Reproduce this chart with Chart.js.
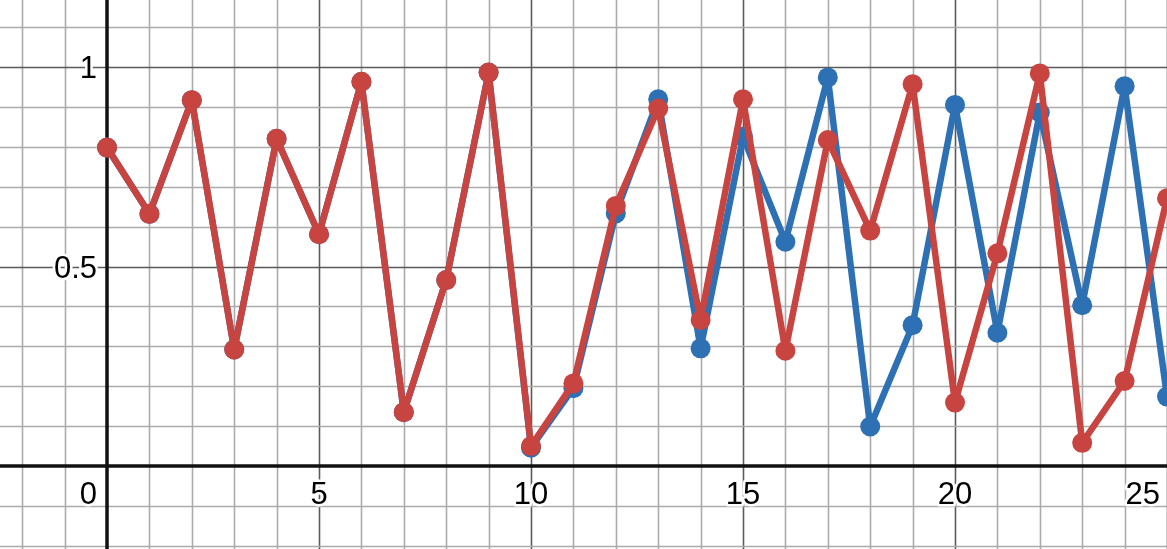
<!DOCTYPE html>
<html>
<head>
<meta charset="utf-8">
<script src="https://cdn.jsdelivr.net/npm/chart.js@4"></script>
<style>
  html, body { margin: 0; padding: 0; background: #fff; }
  #wrap { width: 1167px; height: 549px; position: relative; }
</style>
</head>
<body>
<div id="wrap"><canvas id="c" width="1167" height="549"></canvas></div>
<script>
// ---- data ----
const xValues = [0,1,2,3,4,5,6,7,8,9,10,11,12,13,14,15,16,17,18,19,20,21,22,23,24,25];
const blueValues = [0.798,0.632,0.917,0.292,0.820,0.581,0.963,0.135,0.466,0.986,0.046,0.195,0.633,0.919,0.295,0.825,0.562,0.974,0.099,0.353,0.905,0.334,0.886,0.403,0.952,0.174];
const redValues  = [0.798,0.632,0.917,0.292,0.820,0.581,0.963,0.135,0.466,0.986,0.050,0.207,0.652,0.896,0.366,0.919,0.289,0.817,0.590,0.957,0.159,0.533,0.984,0.058,0.213,0.671];
const xTickLabels = [5,10,15,20,25];
const yTickLabels = [0.5,1];
const originLabel = "0";

const xRange = [-2.524, 25.0];
const yRange = [-0.208, 1.168];

const toPts = (ys) => xValues.map((x, i) => ({x: x, y: ys[i]}));

const gridPlugin = {
  id: 'desmosGrid',
  beforeDatasetsDraw(chart) {
    const ctx = chart.ctx;
    const xs = chart.scales.x, ys = chart.scales.y;
    const area = chart.chartArea;
    ctx.save();
    for (let v = Math.ceil(xRange[0]); v <= Math.floor(xRange[1]); v++) {
      if (v === 0) continue;
      const px = Math.round(xs.getPixelForValue(v)) + 0.5;
      const major = (v % 5 === 0);
      ctx.strokeStyle = major ? '#5a5a5a' : '#ababab';
      ctx.lineWidth = 1.6;
      ctx.beginPath(); ctx.moveTo(px, area.top); ctx.lineTo(px, area.bottom); ctx.stroke();
    }
    for (let k = Math.ceil(yRange[0] * 10); k <= Math.floor(yRange[1] * 10); k++) {
      if (k === 0) continue;
      const py = Math.round(ys.getPixelForValue(k / 10)) + 0.5;
      const major = (k % 5 === 0);
      ctx.strokeStyle = major ? '#5a5a5a' : '#ababab';
      ctx.lineWidth = 1.6;
      ctx.beginPath(); ctx.moveTo(area.left, py); ctx.lineTo(area.right, py); ctx.stroke();
    }
    ctx.strokeStyle = '#111';
    ctx.lineWidth = 3.5;
    const ax = xs.getPixelForValue(0), ay = ys.getPixelForValue(0);
    ctx.beginPath(); ctx.moveTo(ax, area.top); ctx.lineTo(ax, area.bottom); ctx.stroke();
    ctx.beginPath(); ctx.moveTo(area.left, ay); ctx.lineTo(area.right, ay); ctx.stroke();
    ctx.restore();
  },
  afterDatasetsDraw(chart) {
    const ctx = chart.ctx;
    const xs = chart.scales.x, ys = chart.scales.y;
    const ax = xs.getPixelForValue(0), ay = ys.getPixelForValue(0);
    ctx.save();
    ctx.font = '31px "Liberation Sans", Arial, sans-serif';
    ctx.lineJoin = 'round';
    const draw = (t, x, y, align) => {
      ctx.textAlign = align;
      ctx.textBaseline = 'alphabetic';
      ctx.strokeStyle = '#fff';
      ctx.lineWidth = 5;
      ctx.strokeText(t, x, y);
      ctx.fillStyle = '#000';
      ctx.fillText(t, x, y);
    };
    xTickLabels.forEach(v => {
      const t = String(v);
      const w = ctx.measureText(t).width;
      let cx = xs.getPixelForValue(v);
      cx = Math.min(cx, chart.width - 7 - w / 2);
      draw(t, cx, ay + 38, 'center');
    });
    yTickLabels.forEach(v => {
      draw(String(v), ax - 10, ys.getPixelForValue(v) + 11, 'right');
    });
    draw(originLabel, ax - 10, ay + 38, 'right');
    ctx.restore();
  }
};

new Chart(document.getElementById('c'), {
  type: 'line',
  data: {
    datasets: [
      {
        data: toPts(blueValues),
        borderColor: '#2d70b3',
        backgroundColor: '#2d70b3',
        pointBackgroundColor: '#2d70b3',
        borderWidth: 6.5,
        borderJoinStyle: 'round',
        pointRadius: 10,
        pointBorderWidth: 0,
        tension: 0,
        order: 2,
        clip: false
      },
      {
        data: toPts(redValues),
        borderColor: '#c74440',
        backgroundColor: '#c74440',
        pointBackgroundColor: '#c74440',
        borderWidth: 6.5,
        borderJoinStyle: 'round',
        pointRadius: 10,
        pointBorderWidth: 0,
        tension: 0,
        order: 1,
        clip: false
      }
    ]
  },
  options: {
    responsive: false,
    animation: false,
    events: [],
    layout: { padding: 0, autoPadding: false },
    plugins: { legend: { display: false }, tooltip: { enabled: false } },
    scales: {
      x: { type: 'linear', min: xRange[0], max: xRange[1], display: false },
      y: { type: 'linear', min: yRange[0], max: yRange[1], display: false }
    }
  },
  plugins: [gridPlugin]
});
</script>
</body>
</html>
